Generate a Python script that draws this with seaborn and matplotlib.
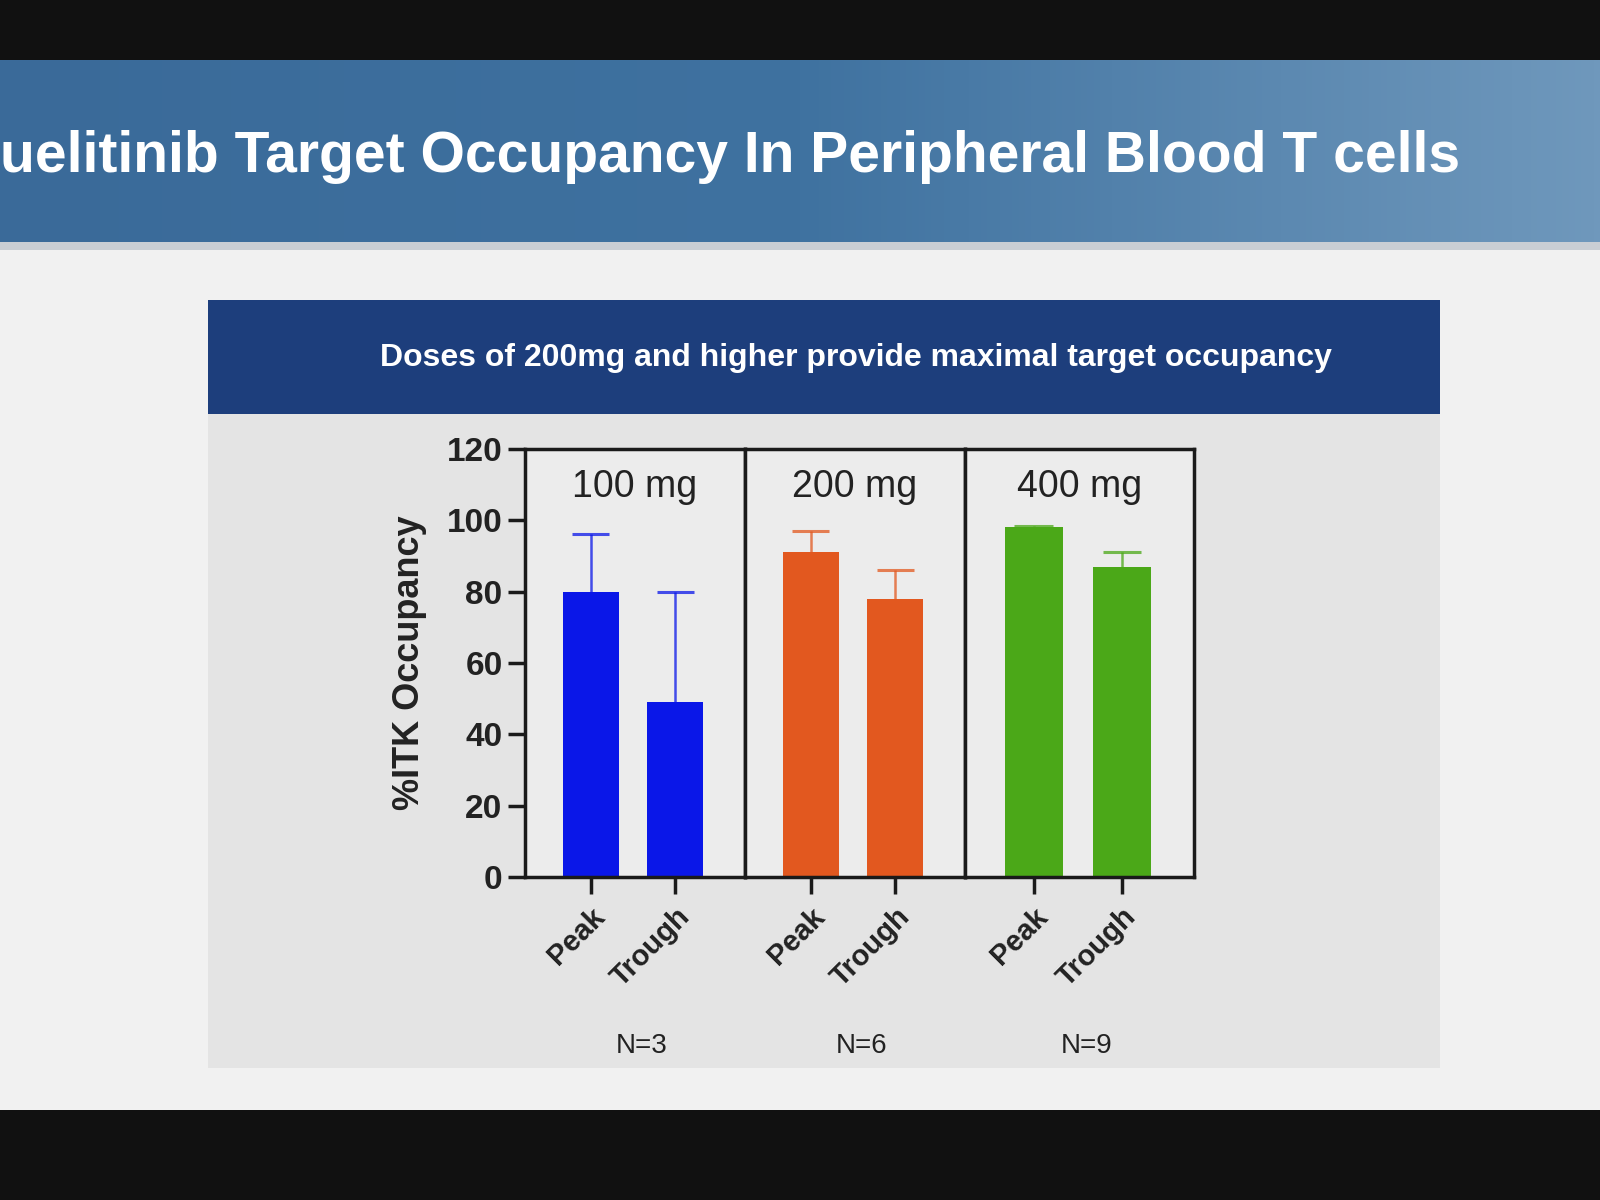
import numpy as np
import pandas as pd
import matplotlib.pyplot as plt
import seaborn as sns
from matplotlib.patches import Rectangle
from matplotlib.colors import LinearSegmentedColormap

# Data
doses = ['100 mg', '200 mg', '400 mg']
n_labels = ['N=3', 'N=6', 'N=9']
timepoints = ['Peak', 'Trough']
mean_occ = [[80, 49], [91, 78], [98, 87]]
sd_occ = [[16, 31], [6, 8], [0.5, 4]]
bar_colors = ['#0A17E8', '#E2581F', '#4BA818']

sns.set_theme(style='white')
plt.rcParams['font.family'] = ['Liberation Sans', 'DejaVu Sans']

fig = plt.figure(figsize=(16, 12), dpi=100)
fig.patch.set_facecolor('#111111')

def box(x, y, w, h, color, z=0):
    fig.add_artist(Rectangle((x, y), w, h, transform=fig.transFigure,
                             facecolor=color, edgecolor='none', zorder=z))

# slide background pieces
box(0, 0.075, 1, 0.725, '#F1F1F1')
box(0, 0.792, 1, 0.006, '#C9CED4')

# header band with a soft left-to-right gradient
hdr = fig.add_axes([0, 0.798, 1, 0.152])
hdr.imshow(np.linspace(0, 1, 256)[None, :], aspect='auto', extent=(0, 1, 0, 1),
           cmap=LinearSegmentedColormap.from_list('hdr', ['#3A6A99', '#3F72A0', '#6F98BC']))
hdr.set_axis_off()
hdr.text(0.0, 0.47, 'uelitinib Target Occupancy In Peripheral Blood T cells',
         color='white', fontsize=41, fontweight='bold', va='center', ha='left',
         transform=hdr.transAxes)

box(0.13, 0.11, 0.77, 0.64, '#E4E4E4')
box(0.13, 0.655, 0.77, 0.095, '#1D3E7C')
fig.text(0.535, 0.702, 'Doses of 200mg and higher provide maximal target occupancy',
         color='white', fontsize=23, fontweight='bold', va='center', ha='center')

left, bottom, height = 0.328, 0.269, 0.357
widths = [0.1375, 0.1375, 0.1435]
x0 = left
for i, dose in enumerate(doses):
    ax = fig.add_axes([x0, bottom, widths[i], height])
    x0 += widths[i]
    df = pd.DataFrame({'time': timepoints, 'occ': mean_occ[i]})
    sns.barplot(data=df, x='time', y='occ', color=bar_colors[i], width=0.66,
                saturation=1, errorbar=None, linewidth=0, ax=ax)
    # upper error bars only (mean + SD)
    tops = [m + s for m, s in zip(mean_occ[i], sd_occ[i])]
    ax.vlines([0, 1], mean_occ[i], tops, color=bar_colors[i], lw=1.8, alpha=0.75)
    ax.hlines(tops, [-0.22, 0.78], [0.22, 1.22], color=bar_colors[i], lw=2.2, alpha=0.75)
    ax.set_facecolor('#ECECEC')
    ax.set_xlim(-0.78, 1.82)
    ax.set_ylim(0, 120)
    ax.set_xlabel('')
    ax.set_ylabel('')
    ax.text(0.5, 0.91, dose, transform=ax.transAxes, ha='center', va='center',
            fontsize=27, color='#222222')
    ax.text(0.53, -0.395, n_labels[i], transform=ax.transAxes, ha='center',
            va='center', fontsize=20, color='#222222')
    for s in ax.spines.values():
        s.set_visible(True)
        s.set_color('#1A1A1A')
        s.set_linewidth(2.5)
    ax.tick_params(axis='x', direction='out', length=12, width=2.5, color='#1A1A1A',
                   bottom=True, pad=6)
    ax.set_xticks([0, 1])
    ax.set_xticklabels(timepoints, rotation=45, ha='right', rotation_mode='anchor',
                       fontsize=21, fontweight='bold', color='#222222')
    if i == 0:
        ax.set_yticks(range(0, 121, 20))
        ax.tick_params(axis='y', direction='out', length=12, width=2.5,
                       color='#1A1A1A', left=True, labelsize=24, pad=4)
        for t in ax.get_yticklabels():
            t.set_fontweight('bold')
            t.set_color('#222222')
        ax.set_ylabel('%ITK Occupancy', fontsize=26, fontweight='bold',
                      color='#222222', labelpad=14)
    else:
        ax.set_yticks([])

plt.savefig('out.png', dpi=100, facecolor=fig.get_facecolor())
